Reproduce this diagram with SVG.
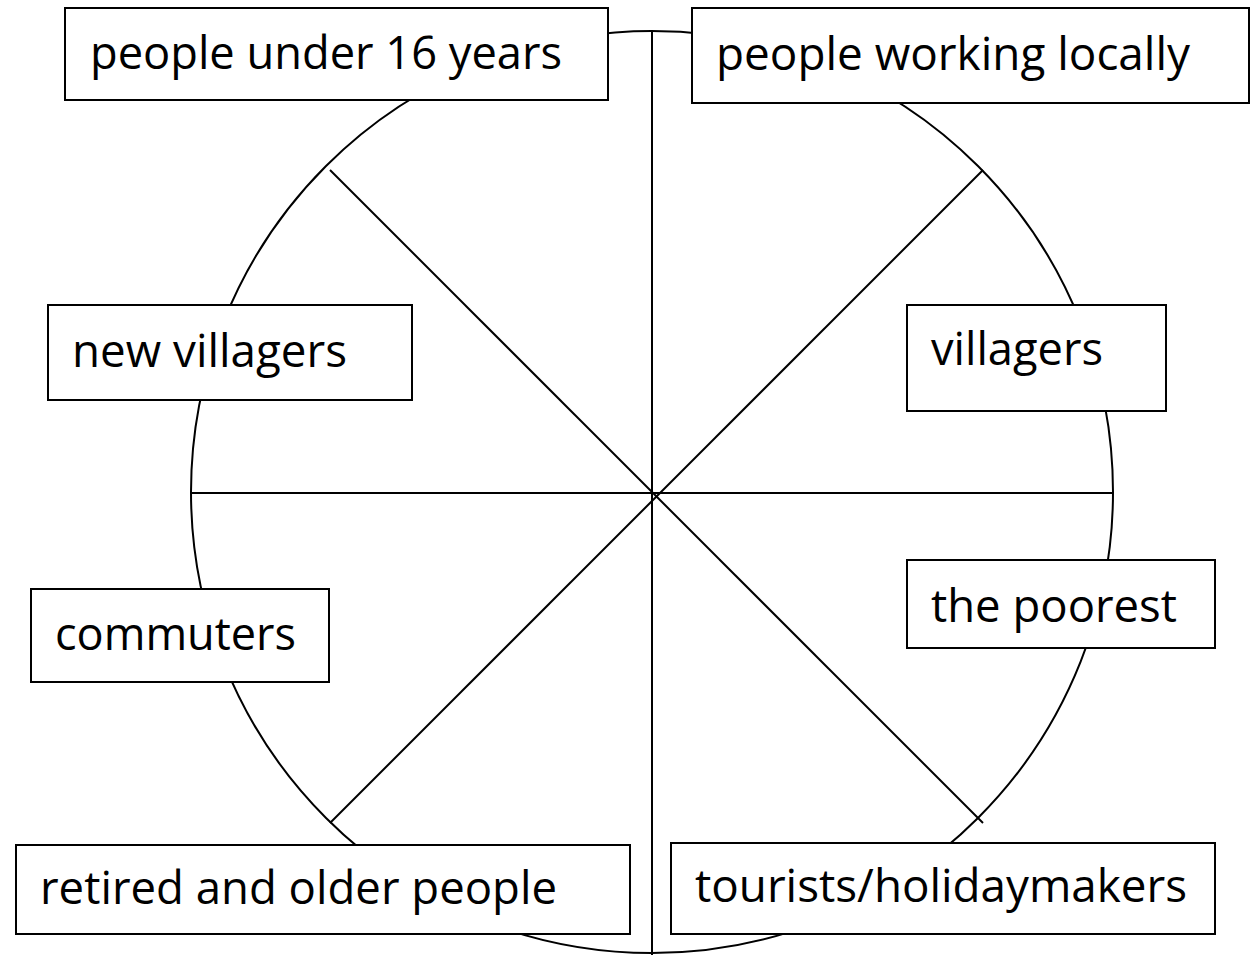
<svg xmlns="http://www.w3.org/2000/svg" width="1256" height="955" viewBox="0 0 1256 955">
<style>
.ln{stroke:#000;stroke-width:2;fill:none}
.bx{fill:#fff;stroke:#000;stroke-width:2}
.t{font-family:"Open Sans","Noto Sans","Liberation Sans",sans-serif;font-size:46px;fill:#000}
</style>
<rect width="1256" height="955" fill="#fff"/>
<g id="connectors">
<circle class="ln" cx="652" cy="492" r="461" stroke-width="1.6"/>
<line class="ln" x1="652" y1="31" x2="652" y2="955"/>
<line class="ln" x1="190" y1="493" x2="1113" y2="493"/>
<line class="ln" x1="330" y1="170" x2="983" y2="823"/>
<line class="ln" x1="983" y1="170" x2="330" y2="823"/>
</g>
<g id="n1"><rect class="bx" x="65" y="8" width="543" height="92"/><text class="t" x="90" y="69" textLength="472" lengthAdjust="spacingAndGlyphs">people under 16 years</text></g>
<g id="n2"><rect class="bx" x="692" y="8" width="557" height="95"/><text class="t" x="716" y="70" textLength="474" lengthAdjust="spacingAndGlyphs">people working locally</text></g>
<g id="n3"><rect class="bx" x="48" y="305" width="364" height="95"/><text class="t" x="72" y="367" textLength="275" lengthAdjust="spacingAndGlyphs">new villagers</text></g>
<g id="n4"><rect class="bx" x="907" y="305" width="259" height="106"/><text class="t" x="931" y="365" textLength="172" lengthAdjust="spacingAndGlyphs">villagers</text></g>
<g id="n5"><rect class="bx" x="31" y="589" width="298" height="93"/><text class="t" x="55" y="650" textLength="241" lengthAdjust="spacingAndGlyphs">commuters</text></g>
<g id="n6"><rect class="bx" x="907" y="560" width="308" height="88"/><text class="t" x="931" y="622" textLength="246" lengthAdjust="spacingAndGlyphs">the poorest</text></g>
<g id="n7"><rect class="bx" x="16" y="845" width="614" height="89"/><text class="t" x="40" y="904" textLength="517" lengthAdjust="spacingAndGlyphs">retired and older people</text></g>
<g id="n8"><rect class="bx" x="671" y="843" width="544" height="91"/><text class="t" x="695" y="902" textLength="492" lengthAdjust="spacingAndGlyphs">tourists/holidaymakers</text></g>
</svg>
